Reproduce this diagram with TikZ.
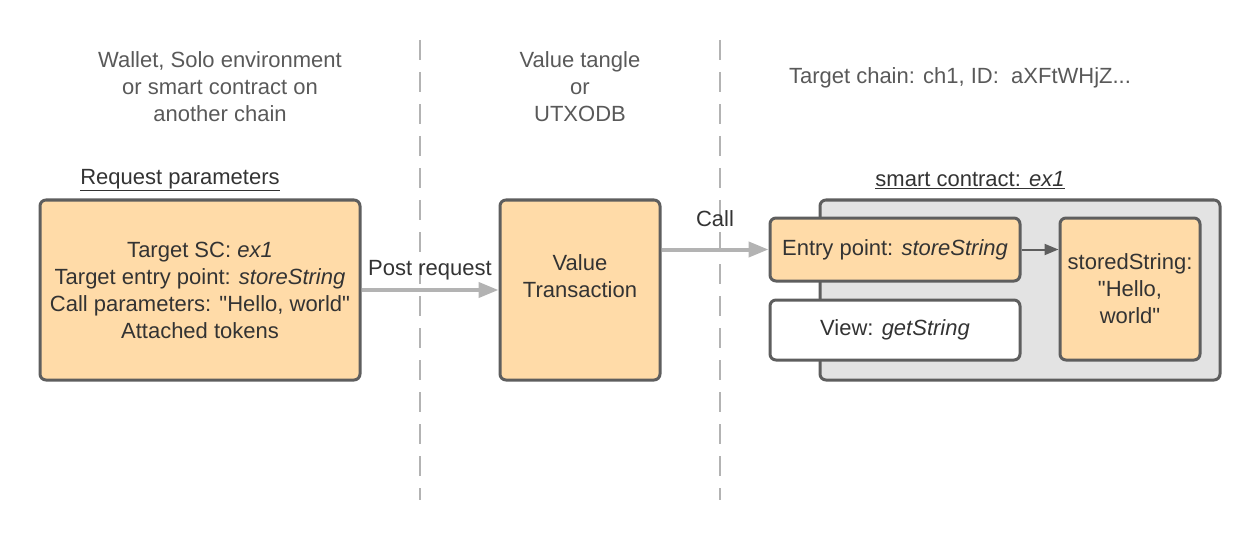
\documentclass[tikz,border=0pt]{standalone}
\usepackage{fontspec}
\setmainfont{Liberation Sans}
\usetikzlibrary{arrows.meta, positioning, calc}
\definecolor{peach}{HTML}{FFDBA8}
\definecolor{edgegray}{HTML}{5E5E5E}
\definecolor{lanegray}{HTML}{B3B3B3}
\definecolor{scgray}{HTML}{E3E3E3}
\definecolor{txtdark}{HTML}{333333}
\definecolor{txtgray}{HTML}{595959}

\begin{document}
\begin{tikzpicture}[x=1pt, y=-1pt, font=\fontsize{22}{27}\selectfont, text=txtdark,
  box/.style={draw=edgegray, line width=3pt, rounded corners=6pt, fill=peach, align=center, inner sep=0pt},
  flow/.style={draw=lanegray, line width=4pt, -{Triangle[length=20pt, width=15pt]}},
  lane/.style={draw=lanegray, line width=2pt, dash pattern=on 20pt off 12pt},
  header/.style={align=center, text=txtgray}]
\useasboundingbox (0,0) rectangle (1260,540);

% Swim lane separators
\draw[lane] (420,40) -- (420,500);
\draw[lane] (720,40) -- (720,500);

% Lane headers
\node[header] (hwallet) at (220,87) {Wallet, Solo environment\\or smart contract on\\another chain};
\node[header] (htangle) at (580,87) {Value tangle\\or\\UTXODB};
\node[header] (hchain) at (960,78) {Target chain: ch1, ID:\ \ aXFtWHjZ...};

% Request side
\node (reqtitle) at (180,180) {\underline{Request parameters}};
\node[box, minimum width=320pt, minimum height=180pt] (req) at (200,290)
  {Target SC: \textit{ex1}\\Target entry point: \textit{storeString}\\Call parameters: \textquotedbl Hello, world\textquotedbl\\Attached tokens};

% Value transaction (text sits a little above the middle)
\node[box, minimum width=160pt, minimum height=180pt] (vt) at (580,290) {Value\\Transaction\\~};

% Smart contract
\node (sctitle) at (970,180) {\underline{smart contract: \textit{ex1}}};
\node[box, fill=scgray, minimum width=400pt, minimum height=180pt] (sc) at (1020,290) {};
\node[box, minimum width=250pt, minimum height=63pt] (entry) at (895,249.5) {Entry point: \textit{storeString}};
\node[box, fill=white, minimum width=250pt, minimum height=60pt] (view) at (895,330) {View: \textit{getString}};
\node[box, minimum width=140pt, minimum height=142pt] (stored) at (1130,289) {storedString:\\\textquotedbl Hello,\\world\textquotedbl};

% Connectors
\draw[flow] (req) -- (vt) node[midway, above=5pt] {Post request};
\draw[flow] (vt.east |- entry.west) -- (entry.west) node[midway, above=17pt] {Call};
\draw[draw=edgegray, line width=2pt, -{Triangle[length=14pt, width=11pt]}] (entry.east) -- (stored.west |- entry.east);
\end{tikzpicture}
\end{document}
